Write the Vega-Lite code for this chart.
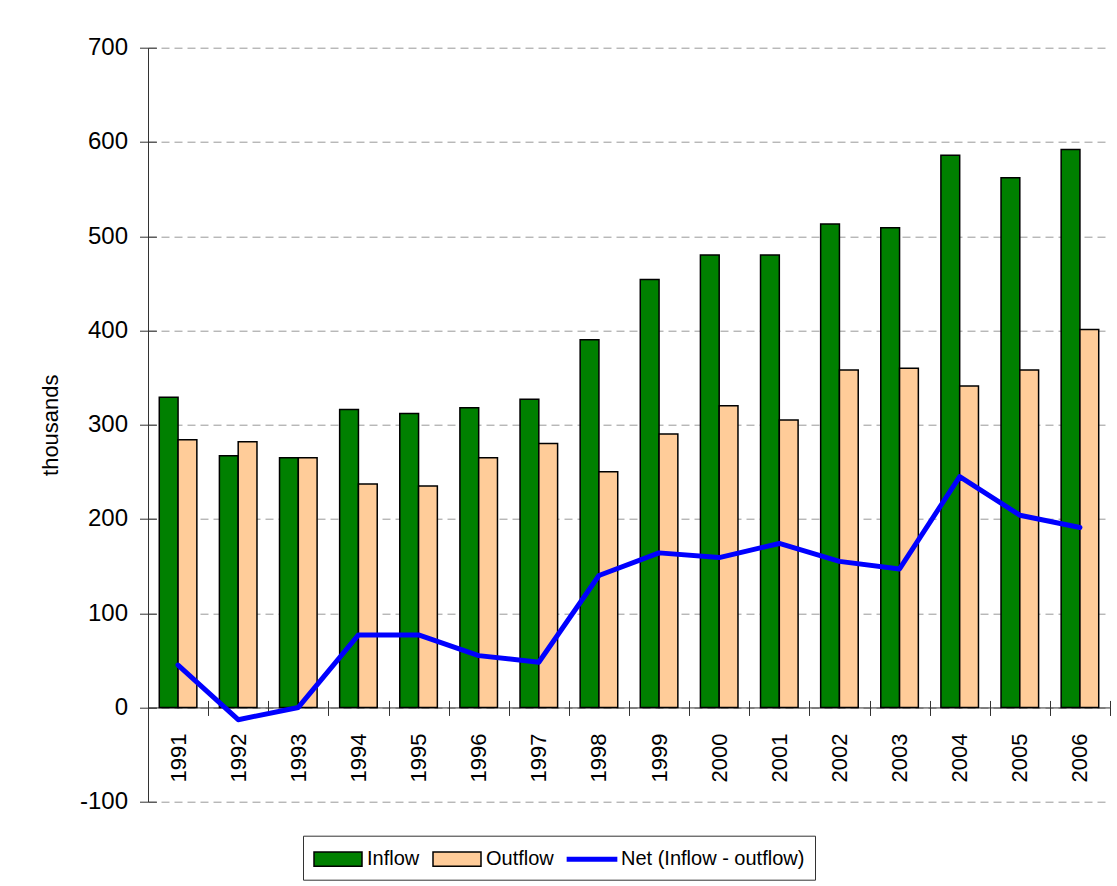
{
  "$schema": "https://vega.github.io/schema/vega-lite/v6.json",
  "width": 962,
  "height": 754,
  "autosize": {"type": "none"},
  "padding": {"left": 148, "top": 47.7, "right": 7, "bottom": 84.3},
  "background": "white",
  "config": {
    "view": {"stroke": null},
    "font": "Liberation Sans",
    "axis": {"labelColor": "#000", "titleColor": "#000"},
    "legend": {
      "labelColor": "#000", "orient": "none", "legendX": 155, "legendY": 788,
      "direction": "horizontal", "strokeColor": "#333", "fillColor": "white", "padding": 10,
      "labelFontSize": 20, "labelLimit": 400,
      "symbolSize": 576, "symbolOffset": 12, "labelOffset": 16,
      "symbolStrokeWidth": 1.5, "symbolOpacity": 1, "columnPadding": 10
    }
  },
  "datasets": {
    "flows": [
      {"year": "1991", "series": "Inflow", "value": 329},
      {"year": "1991", "series": "Outflow", "value": 284},
      {"year": "1992", "series": "Inflow", "value": 267},
      {"year": "1992", "series": "Outflow", "value": 282},
      {"year": "1993", "series": "Inflow", "value": 265},
      {"year": "1993", "series": "Outflow", "value": 265},
      {"year": "1994", "series": "Inflow", "value": 316},
      {"year": "1994", "series": "Outflow", "value": 237},
      {"year": "1995", "series": "Inflow", "value": 312},
      {"year": "1995", "series": "Outflow", "value": 235},
      {"year": "1996", "series": "Inflow", "value": 318},
      {"year": "1996", "series": "Outflow", "value": 265},
      {"year": "1997", "series": "Inflow", "value": 327},
      {"year": "1997", "series": "Outflow", "value": 280},
      {"year": "1998", "series": "Inflow", "value": 390},
      {"year": "1998", "series": "Outflow", "value": 250},
      {"year": "1999", "series": "Inflow", "value": 454},
      {"year": "1999", "series": "Outflow", "value": 290},
      {"year": "2000", "series": "Inflow", "value": 480},
      {"year": "2000", "series": "Outflow", "value": 320},
      {"year": "2001", "series": "Inflow", "value": 480},
      {"year": "2001", "series": "Outflow", "value": 305},
      {"year": "2002", "series": "Inflow", "value": 513},
      {"year": "2002", "series": "Outflow", "value": 358},
      {"year": "2003", "series": "Inflow", "value": 509},
      {"year": "2003", "series": "Outflow", "value": 360},
      {"year": "2004", "series": "Inflow", "value": 586},
      {"year": "2004", "series": "Outflow", "value": 341},
      {"year": "2005", "series": "Inflow", "value": 562},
      {"year": "2005", "series": "Outflow", "value": 358},
      {"year": "2006", "series": "Inflow", "value": 592},
      {"year": "2006", "series": "Outflow", "value": 401}
    ],
    "net": [
      {"year": "1991", "value": 45},
      {"year": "1992", "value": -13},
      {"year": "1993", "value": 0},
      {"year": "1994", "value": 77},
      {"year": "1995", "value": 77},
      {"year": "1996", "value": 55},
      {"year": "1997", "value": 48},
      {"year": "1998", "value": 140},
      {"year": "1999", "value": 164},
      {"year": "2000", "value": 159},
      {"year": "2001", "value": 174},
      {"year": "2002", "value": 155},
      {"year": "2003", "value": 147},
      {"year": "2004", "value": 245},
      {"year": "2005", "value": 204},
      {"year": "2006", "value": 191}
    ]
  },
  "layer": [
    {
      "data": {"name": "flows"},
      "mark": {"type": "bar", "stroke": "#000", "strokeWidth": 1.5},
      "encoding": {
        "x": {
          "field": "year", "type": "ordinal",
          "scale": {"paddingInner": 0, "paddingOuter": 0},
          "axis": {
            "orient": "bottom", "offset": -94.25, "tickBand": "extent",
            "tickSize": 8, "tickColor": "#333", "domainColor": "#333", "domainWidth": 1,
            "labelAngle": -90, "labelPadding": 17.5, "labelFontSize": 22,
            "title": null, "grid": false
          }
        },
        "xOffset": {
          "field": "series", "type": "nominal",
          "scale": {"domain": ["Inflow", "Outflow"], "paddingInner": 0, "paddingOuter": 0.6}
        },
        "y": {
          "field": "value", "type": "quantitative",
          "scale": {"domain": [-100, 700], "nice": false},
          "axis": {
            "orient": "left", "values": [-100, 0, 100, 200, 300, 400, 500, 600, 700],
            "labelExpr": "replace(datum.label, '\u2212', '-')",
            "tickSize": 8.5, "tickColor": "#333", "domainColor": "#333",
            "labelPadding": 12, "labelFontSize": 24,
            "title": "thousands", "titleFontSize": 22, "titleFontWeight": "normal", "titlePadding": 17,
            "grid": true, "gridColor": "#999", "gridDash": [8, 5], "gridWidth": 1
          }
        },
        "fill": {
          "field": "series", "type": "nominal",
          "scale": {"domain": ["Inflow", "Outflow", "Net (Inflow - outflow)"], "range": ["#008000", "#FFCC99", "#0000FF"]},
          "legend": {"title": null}
        }
      }
    },
    {
      "data": {"name": "net"},
      "mark": {"type": "line", "strokeWidth": 5, "strokeJoin": "round", "strokeCap": "round"},
      "encoding": {
        "x": {
          "field": "year", "type": "ordinal",
          "axis": {
            "orient": "bottom", "offset": -101.25, "tickBand": "extent",
            "tickSize": 7, "tickColor": "#333", "domain": false, "labels": false,
            "grid": false, "title": null
          }
        },
        "y": {
          "field": "value", "type": "quantitative",
          "scale": {"domain": [-100, 700], "nice": false},
          "axis": {
            "orient": "left", "offset": -8.5, "values": [-100, 0, 100, 200, 300, 400, 500, 600, 700],
            "tickSize": 8.5, "tickColor": "#333", "domain": false, "labels": false,
            "grid": false, "title": null
          }
        },
        "stroke": {
          "datum": "Net (Inflow - outflow)",
          "scale": {"domain": ["Inflow", "Outflow", "Net (Inflow - outflow)"], "range": ["#000000", "#000000", "#0000FF"]},
          "legend": {"title": null}
        }
      }
    },
    {
      "data": {"name": "flows"},
      "transform": [{"filter": "false"}],
      "mark": {"type": "point", "filled": true},
      "encoding": {
        "x": {"field": "year", "type": "ordinal", "axis": null},
        "y": {"field": "value", "type": "quantitative", "axis": null},
        "shape": {
          "field": "series", "type": "nominal",
          "scale": {"domain": ["Inflow", "Outflow", "Net (Inflow - outflow)"], "range": ["M-2,-0.6H2V0.6H-2Z", "M-2,-0.6H2V0.6H-2Z", "M-2.05,-0.15H2.05V0.15H-2.05Z"]},
          "legend": {"title": null}
        }
      }
    }
  ],
  "resolve": {"axis": {"x": "independent", "y": "independent"}}
}
